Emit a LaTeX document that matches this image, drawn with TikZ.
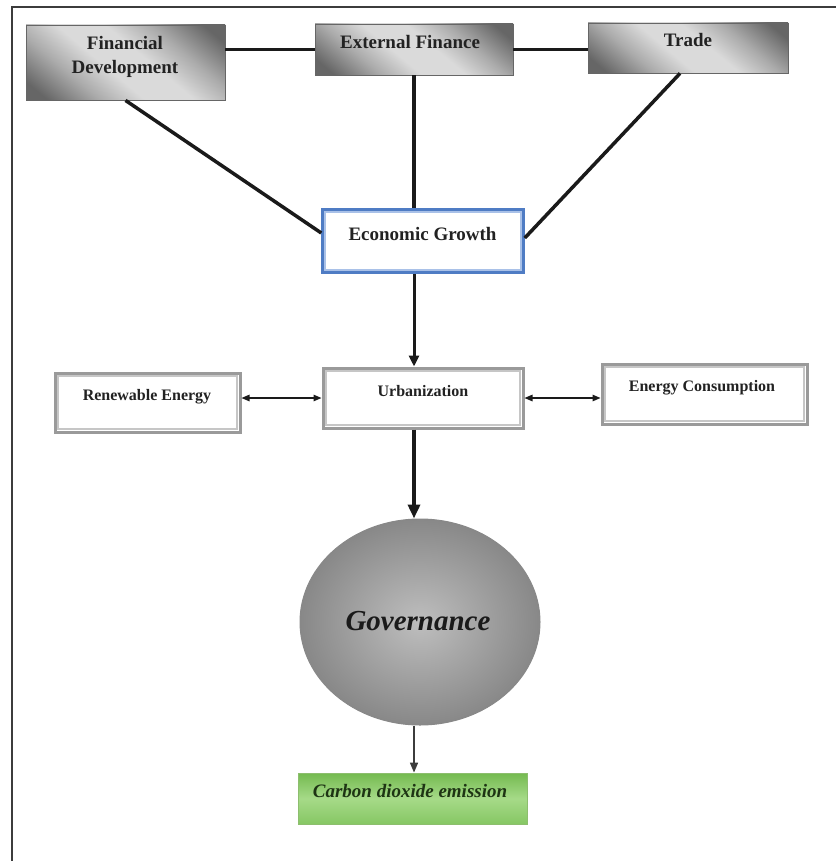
\documentclass[tikz,border=0pt]{standalone}
\usepackage{fontspec}
\setmainfont{Liberation Serif}
\usetikzlibrary{arrows.meta,shapes.geometric}

\definecolor{framecol}{HTML}{3C3C3C}
\definecolor{boxlight}{HTML}{DADADA}
\definecolor{boxmid}{HTML}{ABABAB}
\definecolor{boxdark}{HTML}{666666}
\definecolor{egblue}{HTML}{4F7CC4}
\definecolor{eglight}{HTML}{A9C1E8}
\definecolor{dblout}{HTML}{9A9A9A}
\definecolor{dblin}{HTML}{C6C6C6}
\definecolor{govin}{HTML}{BEBEBE}
\definecolor{govout}{HTML}{888888}
\definecolor{cotop}{HTML}{74BA50}
\definecolor{comid}{HTML}{A6DA88}
\definecolor{cobot}{HTML}{86C764}
\definecolor{coedge}{HTML}{8DBE6E}
\definecolor{cotext}{HTML}{1E3414}
\definecolor{inkcol}{HTML}{1A1A1A}
\definecolor{txtcol}{HTML}{222222}

% grey boxes: dark corners fading into a broad light diagonal band
\pgfdeclareverticalshading{greyband}{100bp}{%
  color(0bp)=(boxdark); color(20bp)=(boxdark); color(33bp)=(boxmid);
  color(44bp)=(boxlight); color(56bp)=(boxlight); color(67bp)=(boxmid);
  color(80bp)=(boxdark); color(100bp)=(boxdark)}

\begin{document}
\begin{tikzpicture}[x=1pt,y=-1pt,
  greybox/.style={rectangle, inner sep=0pt, shade, shading=greyband,
    shading angle=-40, draw=boxdark, line width=0.8pt},
  egbox/.style={rectangle, inner sep=0pt, fill=white, draw=egblue, line width=3.5pt},
  eginner/.style={draw=eglight, line width=2pt},
  dblbox/.style={rectangle, inner sep=0pt, fill=white, draw=dblout, line width=3pt},
  dblinner/.style={draw=dblin, line width=2.5pt},
  govshape/.style={ellipse, inner sep=0pt, inner color=govin, outer color=govout,
    draw=govout, line width=1pt},
  co2box/.style={rectangle, inner sep=0pt, top color=cotop, bottom color=cobot,
    middle color=comid, draw=coedge, line width=0.8pt},
  toplabel/.style={anchor=base, inner sep=0pt, text=txtcol,
    font=\fontsize{19}{23}\selectfont\bfseries},
  midlabel/.style={anchor=base, inner sep=0pt, text=txtcol,
    font=\fontsize{16}{19}\selectfont\bfseries},
  link/.style={draw=inkcol, line width=3.5pt},
  downarrow/.style={draw=inkcol, line width=3pt, -{Triangle[length=11pt,width=10pt]}},
  bigarrow/.style={draw=inkcol, line width=3.5pt, -{Triangle[length=14pt,width=12pt]}},
  thinarrow/.style={draw=inkcol!85, line width=1.6pt, -{Triangle[length=10pt,width=8pt]}},
  twoway/.style={draw=inkcol, line width=1.3pt,
    {Triangle[length=8pt,width=6.5pt]}-{Triangle[length=8pt,width=6.5pt]}}
]
\useasboundingbox (0,0) rectangle (835,861);
\draw[framecol, line width=1.5pt] (12,7) rectangle (860,880);

% determinants in the top row
\node[greybox, minimum width=199pt, minimum height=75pt] (fd) at (125.5,62.5) {};
\node[greybox, minimum width=198pt, minimum height=51pt] (ef) at (414,49.5) {};
\node[greybox, minimum width=200pt, minimum height=50pt] (tr) at (688,48) {};

% growth, urbanization and energy boxes
\node[egbox, minimum width=200pt, minimum height=62pt] (eg) at (423,241) {};
\node[dblbox, minimum width=200pt, minimum height=60pt] (urb) at (423,398) {};
\node[dblbox, minimum width=185pt, minimum height=59pt] (re) at (147.5,402.5) {};
\node[dblbox, minimum width=205pt, minimum height=60pt] (ec) at (704.5,394) {};

\draw[eginner] ([xshift=4pt,yshift=-4pt]eg.north west) rectangle ([xshift=-4pt,yshift=4pt]eg.south east);
\foreach \b in {re,urb,ec}
  \draw[dblinner] ([xshift=4.5pt,yshift=-4.5pt]\b.north west) rectangle ([xshift=-4.5pt,yshift=4.5pt]\b.south east);

% governance and outcome
\node[govshape, minimum width=240pt, minimum height=206pt] (gov) at (420,622) {};
\node[co2box, minimum width=229pt, minimum height=51pt] (co2) at (412.5,798.5) {};

% labels
\node[toplabel] (fdt) at (125,50) {Financial};
\node[toplabel] (fdb) at (125,74) {Development};
\node[toplabel] (eft) at (410,49) {External Finance};
\node[toplabel] (trt) at (688,47) {Trade};
\node[toplabel] (egt) at (422.5,240) {Economic Growth};
\node[midlabel] (ret) at (147,400) {Renewable Energy};
\node[midlabel] (urbt) at (423,396) {Urbanization};
\node[midlabel] (ect) at (702,391) {Energy Consumption};
\node[anchor=base, inner sep=0pt, text=inkcol,
  font=\fontsize{29}{34}\selectfont\bfseries\itshape] (govt) at (418,630) {Governance};
\node[anchor=base, inner sep=0pt, text=cotext,
  font=\fontsize{19}{23}\selectfont\bfseries\itshape] (co2t) at (410,797) {Carbon dioxide emission};

% connectors
\draw[link] (ef.west -| fd.east) -- (ef.west);
\draw[link] (ef.east) -- (ef.east -| tr.west);
\draw[link] (fd.south) -- ([yshift=8pt]eg.west);
\draw[link] (ef.south) -- (ef.south |- eg.north);
\draw[link] ([xshift=-8pt]tr.south) -- ([yshift=3pt]eg.east);
\draw[downarrow] (eg.south -| ef.south) -- (urb.north -| ef.south);
\draw[twoway] (urb.west -| re.east) -- (urb.west);
\draw[twoway] (urb.east) -- (urb.east -| ec.west);
\draw[bigarrow] (urb.south -| ef.south) -- (gov.north -| ef.south);
\draw[thinarrow] (gov.south -| ef.south) -- (co2.north -| ef.south);
\end{tikzpicture}
\end{document}
